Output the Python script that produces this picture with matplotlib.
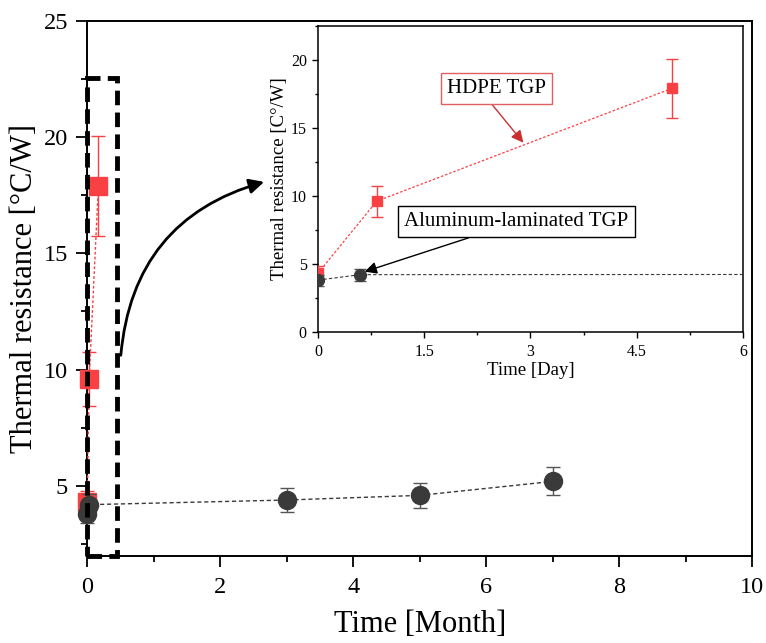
import matplotlib
matplotlib.use("Agg")
import matplotlib.pyplot as plt
from matplotlib.patches import Rectangle, FancyArrowPatch
from matplotlib.ticker import MultipleLocator
import numpy as np

plt.rcParams['font.family'] = ['Liberation Serif', 'DejaVu Serif']

# HDPE TGP, time in days
hdpe_days = [0, 0.83, 5.0]
hdpe_r = [4.3, 9.6, 17.9]
hdpe_err = [0.5, 1.15, 2.15]

# aluminum-laminated TGP, time in months
alu_months = [0, 0.02, 3, 5, 7]
alu_r = [3.8, 4.2, 4.4, 4.6, 5.2]
alu_err = [0.4, 0.45, 0.5, 0.55, 0.6]

RED = '#f94144'
DARK = '#3a3a3a'


def no_clip(container):
    # let markers at x=0 hang over the spine like in the original
    for art in container.get_children():
        art.set_clip_on(False)


fig = plt.figure(figsize=(7.66, 6.43), dpi=100)
ax = fig.add_axes([0.114, 0.1355, 0.868, 0.8325])

hdpe_months = np.array(hdpe_days) / 30.0
alu_days = np.array(alu_months) * 30.0

# main plot
c1 = ax.errorbar(hdpe_months, hdpe_r, yerr=hdpe_err, fmt='s', color=RED, ms=13,
                 ecolor=RED, elinewidth=1, capsize=5, ls=(0, (2, 1.5)), lw=1, zorder=3)
c2 = ax.errorbar(alu_months, alu_r, yerr=alu_err, fmt='o', color=DARK, ms=13,
                 ecolor='#555555', elinewidth=1, capsize=5, ls=(0, (3, 2)), lw=1, zorder=4)
no_clip(c1)
no_clip(c2)

ax.set_xlim(0, 10)
ax.set_ylim(2, 25)
ax.xaxis.set_major_locator(MultipleLocator(2))
ax.xaxis.set_minor_locator(MultipleLocator(1))
ax.set_yticks([5, 10, 15, 20, 25])
ax.yaxis.set_minor_locator(MultipleLocator(2.5))
ax.tick_params(which='major', direction='out', length=8, width=1.3, labelsize=17.5)
ax.tick_params(axis='x', which='major', pad=7)
ax.tick_params(axis='y', which='major', pad=6)
ax.tick_params(which='minor', direction='out', length=4, width=1.3)
for s in ax.spines.values():
    s.set_linewidth(1.4)
ax.set_xlabel('Time [Month]', fontsize=22, labelpad=9)
ax.set_ylabel('Thermal resistance [°C/W]', fontsize=22, labelpad=3)

# dashed zoom box
rect = Rectangle((0, 2), 0.45, 20.55, fill=False, ec='black', lw=3.5,
                 ls=(0, (3, 1.5)), zorder=5, clip_on=False)
ax.add_patch(rect)

arrow = FancyArrowPatch((0.5, 10.5), (2.7, 18.1), connectionstyle='arc3,rad=-0.35',
                        arrowstyle='-|>', mutation_scale=22, lw=2, color='black')
ax.add_patch(arrow)

# inset
ins = fig.add_axes([0.415, 0.484, 0.555, 0.476])
ins.errorbar(hdpe_days, hdpe_r, yerr=hdpe_err, fmt='s', color=RED, ms=7.5,
             ecolor=RED, elinewidth=1, capsize=4, ls=(0, (2, 1.5)), lw=0.9, zorder=3)
ins.errorbar(alu_days, alu_r, yerr=alu_err, fmt='o', color=DARK, ms=8.5,
             ecolor='#555555', elinewidth=1, capsize=4, ls=(0, (3, 2)), lw=0.8, zorder=4)
ins.set_xlim(0, 6)
ins.set_ylim(0, 22.5)
ins.set_xticks([0, 1.5, 3, 4.5, 6])
ins.set_xticklabels(['0', '1.5', '3', '4.5', '6'])
ins.xaxis.set_minor_locator(MultipleLocator(0.75))
ins.set_yticks([0, 5, 10, 15, 20])
ins.yaxis.set_minor_locator(MultipleLocator(2.5))
ins.tick_params(which='major', direction='out', length=4, width=1, labelsize=11.5)
ins.tick_params(axis='x', which='major', pad=5)
ins.tick_params(axis='y', which='major', pad=4)
ins.tick_params(which='minor', direction='out', length=2.5, width=1)
for s in ins.spines.values():
    s.set_linewidth(1.1)
ins.set_xlabel('Time [Day]', fontsize=13.5, labelpad=1)
ins.set_ylabel('Thermal resistance [C°/W]', fontsize=13.5, labelpad=2)

ins.annotate('HDPE TGP', xy=(2.9, 13.9), xytext=(2.52, 17.9), fontsize=15,
             ha='center', va='center',
             bbox=dict(boxstyle='square,pad=0.3', fc='white', ec='#e06060', lw=1),
             arrowprops=dict(arrowstyle='-|>', color='#c83030', lw=1,
                             mutation_scale=18, shrinkA=0, shrinkB=0,
                             relpos=(0.4, 0)))
ins.annotate('Aluminum-laminated TGP', xy=(0.66, 4.42), xytext=(2.8, 8.1), fontsize=15,
             ha='center', va='center',
             bbox=dict(boxstyle='square,pad=0.3', fc='white', ec='black', lw=1),
             arrowprops=dict(arrowstyle='-|>', color='black', lw=1,
                             mutation_scale=18, shrinkA=0, shrinkB=0,
                             relpos=(0.38, 0)))

fig.savefig('out.png', dpi=100)
